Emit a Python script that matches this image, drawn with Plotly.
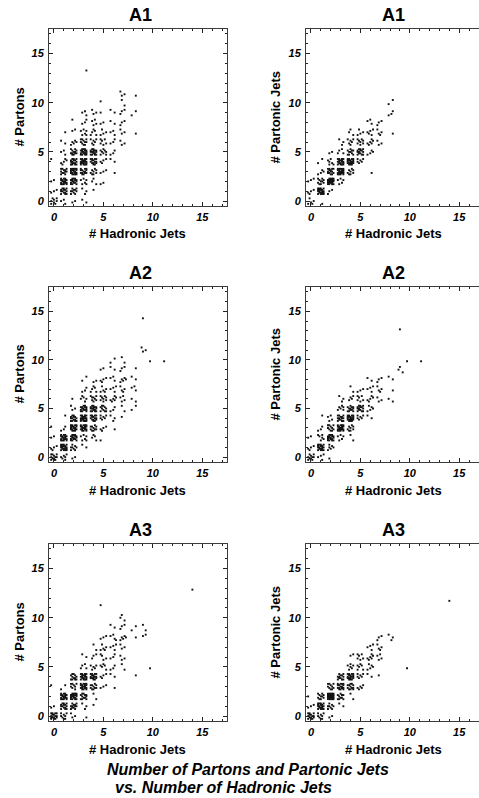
import plotly.graph_objects as go

W, H = 479, 798
FONT = "Liberation Sans, Arial, Helvetica, sans-serif"

# Bin contents: (hadronic jets, partons or partonic jets, entries)
a1_partons = [
    (0, 0, 8), (0, 1, 3), (0, 2, 2), (0, 4, 1),
    (1, 0, 3), (1, 1, 14), (1, 2, 18), (1, 3, 12), (1, 4, 5), (1, 5, 3), (1, 6, 2), (1, 7, 1),
    (2, 0, 2), (2, 1, 10), (2, 2, 16), (2, 3, 20), (2, 4, 16), (2, 5, 12), (2, 6, 5), (2, 7, 2), (2, 8, 1),
    (3, 0, 2), (3, 1, 3), (3, 2, 6), (3, 3, 14), (3, 4, 20), (3, 5, 18), (3, 6, 10), (3, 7, 6), (3, 8, 3), (3, 9, 3), (3, 13, 1),
    (4, 1, 1), (4, 2, 3), (4, 3, 8), (4, 4, 14), (4, 5, 16), (4, 6, 6), (4, 7, 5), (4, 8, 4), (4, 9, 3),
    (5, 2, 2), (5, 3, 3), (5, 4, 4), (5, 5, 8), (5, 6, 6), (5, 7, 4), (5, 8, 2), (5, 9, 1), (5, 10, 1),
    (6, 3, 1), (6, 4, 2), (6, 5, 3), (6, 6, 3), (6, 7, 3), (6, 8, 2), (6, 9, 2),
    (7, 6, 3), (7, 7, 3), (7, 8, 3), (7, 9, 3), (7, 10, 2), (7, 11, 3),
    (8, 7, 1), (8, 9, 2), (8, 11, 1),
]

a1_partonic = [
    (0, 0, 5), (0, 1, 4), (0, 2, 3),
    (1, 0, 1), (1, 1, 20), (1, 2, 10), (1, 3, 4), (1, 4, 2),
    (2, 1, 3), (2, 2, 22), (2, 3, 14), (2, 4, 6), (2, 5, 2),
    (3, 2, 5), (3, 3, 22), (3, 4, 18), (3, 5, 4), (3, 6, 3),
    (4, 3, 8), (4, 4, 20), (4, 5, 10), (4, 6, 6), (4, 7, 3),
    (5, 4, 6), (5, 5, 14), (5, 6, 8), (5, 7, 4),
    (6, 3, 1), (6, 5, 4), (6, 6, 6), (6, 7, 5), (6, 8, 3),
    (7, 6, 3), (7, 7, 4), (7, 8, 3),
    (8, 7, 1), (8, 9, 3), (8, 10, 2),
]

a2_partons = [
    (0, 0, 12), (0, 1, 4), (0, 2, 2), (0, 3, 1),
    (1, 0, 6), (1, 1, 20), (1, 2, 18), (1, 3, 3), (1, 4, 1),
    (2, 0, 2), (2, 1, 8), (2, 2, 16), (2, 3, 18), (2, 4, 14), (2, 5, 3), (2, 6, 1),
    (3, 1, 2), (3, 2, 6), (3, 3, 18), (3, 4, 20), (3, 5, 16), (3, 6, 5), (3, 7, 3), (3, 8, 2),
    (4, 2, 4), (4, 3, 10), (4, 4, 14), (4, 5, 16), (4, 6, 8), (4, 7, 5), (4, 8, 2),
    (5, 2, 1), (5, 3, 4), (5, 4, 6), (5, 5, 10), (5, 6, 8), (5, 7, 5), (5, 8, 4), (5, 9, 2),
    (6, 3, 1), (6, 4, 3), (6, 5, 3), (6, 6, 6), (6, 7, 4), (6, 8, 3), (6, 9, 2), (6, 10, 2),
    (7, 4, 1), (7, 5, 2), (7, 6, 4), (7, 7, 4), (7, 8, 5), (7, 9, 3), (7, 10, 2),
    (8, 5, 2), (8, 6, 2), (8, 7, 3), (8, 8, 2), (8, 9, 1),
    (9, 11, 3), (9, 14, 1),
    (10, 10, 1), (11, 10, 1),
]

a2_partonic = [
    (0, 0, 10), (0, 1, 4), (0, 2, 2),
    (1, 0, 4), (1, 1, 18), (1, 2, 6), (1, 3, 3), (1, 4, 1),
    (2, 0, 1), (2, 1, 6), (2, 2, 18), (2, 3, 10), (2, 4, 4),
    (3, 2, 5), (3, 3, 20), (3, 4, 14), (3, 5, 6), (3, 6, 3),
    (4, 2, 2), (4, 3, 8), (4, 4, 20), (4, 5, 12), (4, 6, 4), (4, 7, 2),
    (5, 4, 6), (5, 5, 14), (5, 6, 6), (5, 7, 3),
    (6, 4, 2), (6, 5, 5), (6, 6, 5), (6, 7, 4), (6, 8, 2),
    (7, 6, 3), (7, 7, 4), (7, 8, 3),
    (8, 6, 2), (8, 7, 1), (8, 8, 2),
    (9, 9, 3), (9, 13, 1),
    (10, 10, 1), (11, 10, 1),
]

a3_partons = [
    (0, 0, 16), (0, 1, 2), (0, 3, 1),
    (1, 0, 8), (1, 1, 14), (1, 2, 18), (1, 3, 2),
    (2, 0, 3), (2, 1, 12), (2, 2, 20), (2, 3, 8), (2, 4, 12),
    (3, 0, 1), (3, 1, 3), (3, 2, 12), (3, 3, 18), (3, 4, 18), (3, 5, 4), (3, 6, 2),
    (4, 1, 1), (4, 2, 2), (4, 3, 10), (4, 4, 16), (4, 5, 5), (4, 6, 3), (4, 7, 2),
    (5, 3, 3), (5, 4, 4), (5, 5, 5), (5, 6, 4), (5, 7, 5), (5, 8, 3), (5, 11, 1),
    (6, 3, 1), (6, 4, 2), (6, 5, 3), (6, 6, 3), (6, 7, 4), (6, 8, 4), (6, 9, 2),
    (7, 5, 2), (7, 6, 3), (7, 7, 3), (7, 8, 5), (7, 9, 3), (7, 10, 3),
    (8, 4, 1), (8, 8, 1), (8, 9, 2),
    (9, 8, 2), (9, 9, 2),
    (10, 5, 1), (14, 13, 1),
]

a3_partonic = [
    (0, 0, 14), (0, 1, 3), (0, 2, 1),
    (1, 0, 8), (1, 1, 18), (1, 2, 10),
    (2, 0, 2), (2, 1, 8), (2, 2, 25), (2, 3, 10),
    (3, 1, 2), (3, 2, 10), (3, 3, 16), (3, 4, 12),
    (4, 2, 2), (4, 3, 12), (4, 4, 18), (4, 5, 6), (4, 6, 2),
    (5, 3, 5), (5, 4, 6), (5, 5, 6), (5, 6, 6),
    (6, 4, 2), (6, 5, 5), (6, 6, 6), (6, 7, 4),
    (7, 4, 1), (7, 6, 4), (7, 7, 4), (7, 8, 3),
    (8, 8, 3),
    (10, 5, 1), (14, 12, 1),
]

panel_titles = ["A1", "A1", "A2", "A2", "A3", "A3"]
y_titles = ["# Partons", "# Partonic Jets"]
x_title = "# Hadronic Jets"
caption = ["Number of Partons and Partonic Jets", "vs. Number of Hadronic Jets"]
panel_data = [a1_partons, a1_partonic, a2_partons, a2_partonic, a3_partons, a3_partonic]

# Scatter-style 2D histogram: each bin shows as many dots as it has entries,
# laid on a 5x5 sub-grid inside the bin in a fixed, spread-out order.
SUB = [-0.28, -0.14, 0.0, 0.14, 0.28]


def bin_dots(bins):
    xs, ys = [], []
    for hx, hy, n in bins:
        shift = (3 * hx + 5 * hy) % 25
        for k in range(min(n, 25)):
            p = (7 * k + shift) % 25
            xs.append(hx + SUB[p % 5])
            ys.append(hy + SUB[p // 5])
    return xs, ys


# panel frames in pixels
COLS = [(49, 227, 17.5), (306, 479, 17.0)]
ROWS = [(29, 206), (287, 462), (544, 721)]

fig = go.Figure()
layout = dict(
    width=W, height=H, margin=dict(l=0, r=0, t=0, b=0),
    paper_bgcolor="white", plot_bgcolor="white", showlegend=False,
    annotations=[],
)

tickfont = dict(family=FONT, size=11, color="black", weight="bold", style="italic")


def ann(text, xp, yp, size, angle=0, italic=False):
    return dict(
        text=text, x=xp / W, y=1 - yp / H, xref="paper", yref="paper",
        xanchor="center", yanchor="middle", showarrow=False, textangle=angle,
        font=dict(family=FONT, size=size, color="black", weight="bold",
                  style="italic" if italic else "normal"),
    )


for i, bins in enumerate(panel_data):
    r, c = divmod(i, 2)
    x0, x1, xmax = COLS[c]
    top, bot = ROWS[r]
    xs, ys = bin_dots(bins)
    fig.add_trace(go.Scatter(
        x=xs, y=ys, mode="markers", xaxis=f"x{i + 1}", yaxis=f"y{i + 1}",
        marker=dict(symbol="square", size=1.9, color="#111", line=dict(width=0)),
        hoverinfo="skip",
    ))
    common = dict(
        showline=True, linecolor="#3c3c3c", linewidth=1, ticks="inside",
        ticklen=4, tickwidth=1, tickcolor="#222", tickmode="linear", tick0=0, dtick=5,
        minor=dict(ticks="inside", ticklen=2, tickwidth=1, tickcolor="#222", tick0=0, dtick=1),
        showgrid=False, zeroline=False, tickfont=tickfont, fixedrange=True,
    )
    layout[f"xaxis{i + 1}"] = dict(
        common, domain=[x0 / W, x1 / W], range=[-0.5, xmax], anchor=f"y{i + 1}",
        mirror="allticks", ticklabelstandoff=1,
    )
    layout[f"yaxis{i + 1}"] = dict(
        common, domain=[1 - bot / H, 1 - top / H], range=[-0.5, 17.5], anchor=f"x{i + 1}",
        mirror="allticks" if c == 0 else False, ticklabelstandoff=2,
    )
    cx = 140 if c == 0 else 393
    layout["annotations"].append(ann(panel_titles[i], cx, top - 14, 18))
    layout["annotations"].append(ann(x_title, 137 if c == 0 else 393, bot + 28, 13))
    layout["annotations"].append(
        ann(y_titles[c], 19 if c == 0 else 275, (top + bot) / 2, 13, angle=-90))

layout["annotations"].append(ann(caption[0], 248, 769, 16, italic=True))
layout["annotations"].append(ann(caption[1], 223, 787, 16, italic=True))

fig.update_layout(**layout)
fig.write_html("out.html")
